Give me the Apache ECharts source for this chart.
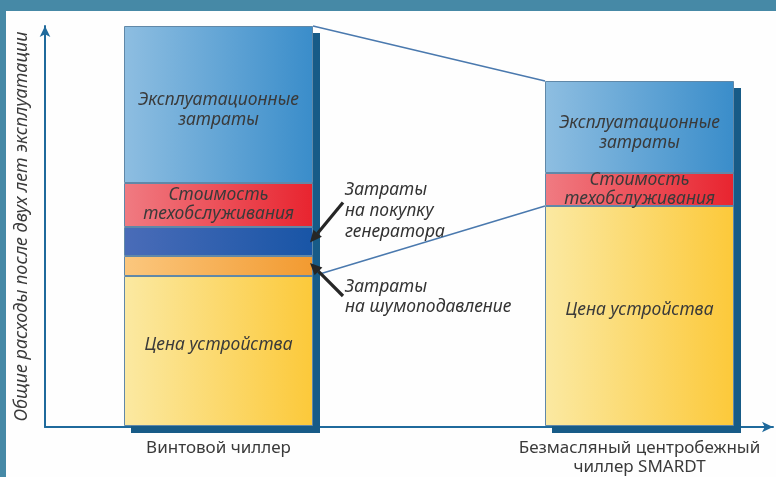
<!DOCTYPE html>
<html>
<head>
<meta charset="utf-8">
<script src="https://cdn.jsdelivr.net/npm/echarts@6/dist/echarts.min.js"></script>
<style>
  html, body { margin: 0; padding: 0; width: 776px; height: 477px; overflow: hidden; background: #4689a6; }
  #chart { position: absolute; left: 6px; top: 11px; width: 900px; height: 466px; background: #fefefe; }
</style>
</head>
<body>
<div id="chart"></div>
<script>
// данные (условные единицы, сумма винтового чиллера = 100)
const categories = ["Винтовой чиллер", "Безмасляный центробежный\nчиллер SMARDT"];
const priceCost = [37.5, 55];
const noiseCost = [5, "-"];
const generatorCost = [7.25, "-"];
const serviceCost = [11, 8.25];
const operatingCost = [39.25, 23];
const yAxisTitle = "Общие расходы после двух лет эксплуатации";

const num = (v) => (typeof v === "number" ? v : 0);
const totals = categories.map((c, i) =>
  num(priceCost[i]) + num(noiseCost[i]) + num(generatorCost[i]) + num(serviceCost[i]) + num(operatingCost[i])
);

const FONT = "Noto Sans";
const TEXT = "#3a3a3a";
const AXIS = "#1f6a9c";
const BAR_W = 189;

function grad(c1, c2) {
  return new echarts.graphic.LinearGradient(0, 0, 1, 0, [
    { offset: 0, color: c1 },
    { offset: 1, color: c2 },
  ]);
}

function segment(name, data, c1, c2, label) {
  return {
    name: name,
    type: "bar",
    stack: "total",
    xAxisIndex: 1,
    yAxisIndex: 1,
    barWidth: BAR_W,
    silent: true,
    data: data,
    itemStyle: { color: grad(c1, c2), borderColor: "#6088a8", borderWidth: 1 },
    label: Object.assign(
      {
        show: true,
        position: "inside",
        fontFamily: FONT,
        fontStyle: "italic",
        fontSize: 17.5,
        lineHeight: 20,
        color: TEXT,
      },
      label
    ),
  };
}

const chart = echarts.init(document.getElementById("chart"));

// холст шире окна (900px), видимая часть — первые 770px
const option = {
  animation: false,
  grid: [
    // оси со стрелками
    { left: 39, right: 133, top: 15, bottom: 50, outerBoundsMode: "none" },
    // столбцы
    { left: 2, right: 56, top: 15, bottom: 51, outerBoundsMode: "none" },
    // тень столбцов
    { left: 9, right: 49, top: 22, bottom: 44, outerBoundsMode: "none" },
  ],
  xAxis: [
    {
      gridIndex: 0,
      type: "value",
      min: 0,
      max: 1,
      axisLine: { show: true, symbol: ["none", "arrow"], symbolSize: [8, 11], lineStyle: { color: AXIS, width: 2 } },
      axisTick: { show: false },
      axisLabel: { show: false },
      splitLine: { show: false },
    },
    {
      gridIndex: 1,
      type: "category",
      data: categories,
      axisLine: { show: false },
      axisTick: { show: false },
      axisLabel: { fontFamily: FONT, fontSize: 17, lineHeight: 19, color: TEXT, margin: 13 },
    },
    { gridIndex: 2, type: "category", data: categories, show: false },
  ],
  yAxis: [
    {
      gridIndex: 0,
      type: "value",
      min: 0,
      max: 100,
      name: yAxisTitle,
      nameLocation: "middle",
      nameGap: 14,
      nameTextStyle: { fontFamily: FONT, fontStyle: "italic", fontSize: 18, color: TEXT },
      axisLine: { show: true, symbol: ["none", "arrow"], symbolSize: [8, 11], lineStyle: { color: AXIS, width: 2 } },
      axisTick: { show: false },
      axisLabel: { show: false },
      splitLine: { show: false },
    },
    { gridIndex: 1, type: "value", min: 0, max: 100, show: false },
    { gridIndex: 2, type: "value", min: 0, max: 100, show: false },
  ],
  series: [
    {
      name: "тень",
      type: "bar",
      xAxisIndex: 2,
      yAxisIndex: 2,
      barWidth: BAR_W,
      silent: true,
      z: 1,
      data: totals,
      itemStyle: { color: "#175b87" },
    },
    segment("Цена устройства", priceCost, "#fbe9a2", "#fcc93a", { formatter: "Цена устройства", offset: [0, -6] }),
    segment("Затраты на шумоподавление", noiseCost, "#fbc77e", "#f29a30", {
      formatter: "Затраты\nна шумоподавление",
      position: "right",
      distance: 32,
      offset: [0, 31],
      color: "#333",
    }),
    segment("Затраты на покупку генератора", generatorCost, "#4a6cb8", "#1855a6", {
      formatter: "Затраты\nна покупку\nгенератора",
      position: "right",
      distance: 32,
      offset: [0, -30],
      lineHeight: 21,
      color: "#333",
    }),
    segment("Стоимость техобслуживания", serviceCost, "#f07b82", "#e8242f", {
      formatter: "Стоимость\nтехобслуживания",
      lineHeight: 19,
    }),
    segment("Эксплуатационные затраты", operatingCost, "#8ebee1", "#3a8dca", {
      formatter: "Эксплуатационные\nзатраты",
      offset: [0, 6],
    }),
  ],
};

chart.setOption(option);

// соединительные линии и стрелки по пиксельным координатам столбцов
const px = (i, v) => chart.convertToPixel({ gridIndex: 1 }, [i, v]);
const half = BAR_W / 2;
const xR0 = px(0, 0)[0] + half;
const xL1 = px(1, 0)[0] - half;
const top0 = px(0, totals[0])[1];
const top1 = px(1, totals[1])[1];
const price0 = px(0, priceCost[0])[1];
const price1 = px(1, priceCost[1])[1];
const noiseMid = px(0, priceCost[0] + noiseCost[0] / 2)[1];
const genMid = px(0, priceCost[0] + noiseCost[0] + generatorCost[0] / 2)[1];

function arrow(x1, y1, x2, y2) {
  const a = Math.atan2(y2 - y1, x2 - x1);
  const len = 12, w = 5.5;
  const bx = x2 - len * Math.cos(a), by = y2 - len * Math.sin(a);
  const nx = -Math.sin(a) * w, ny = Math.cos(a) * w;
  return [
    { type: "line", z: 20, shape: { x1: x1, y1: y1, x2: bx, y2: by }, style: { stroke: "#262626", lineWidth: 3.2 } },
    { type: "polygon", z: 20, shape: { points: [[x2, y2], [bx + nx, by + ny], [bx - nx, by - ny]] }, style: { fill: "#262626" } },
  ];
}

const link = { stroke: "#4a79ae", lineWidth: 1.5 };
chart.setOption({
  graphic: [
    { type: "line", z: 0, shape: { x1: xR0, y1: top0, x2: xL1, y2: top1 }, style: link },
    { type: "line", z: 0, shape: { x1: xR0, y1: price0, x2: xL1, y2: price1 }, style: link },
  ]
    .concat(arrow(xR0 + 30, genMid - 39, xR0 - 3, genMid + 1))
    .concat(arrow(xR0 + 30, noiseMid + 30, xR0 - 3, noiseMid - 3)),
});
</script>
</body>
</html>
